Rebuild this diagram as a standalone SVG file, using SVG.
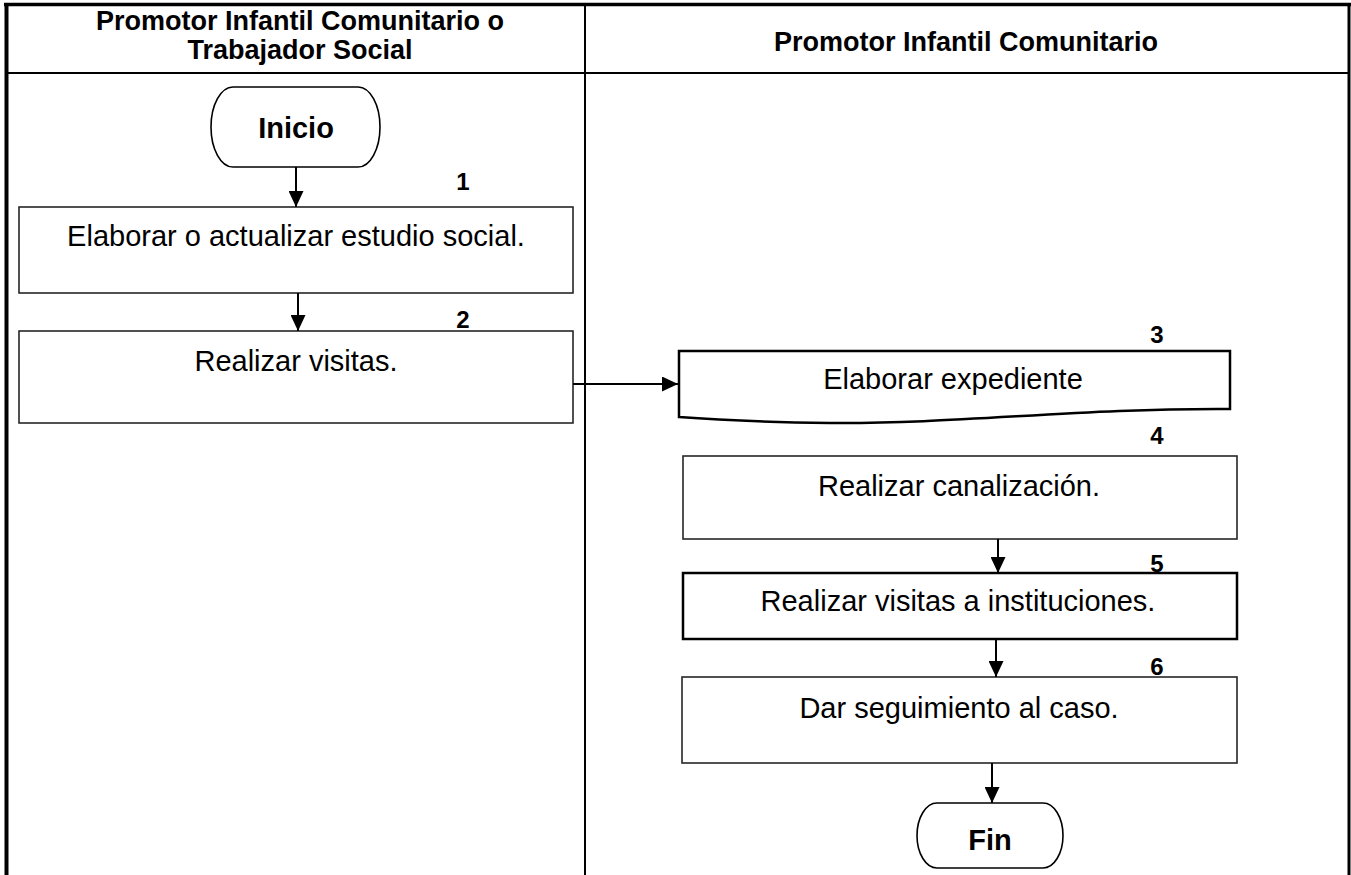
<svg xmlns="http://www.w3.org/2000/svg" width="1351" height="875" viewBox="0 0 1351 875">
<defs>
<style>
.frame{stroke:#000;fill:none}
.box{fill:#fff;stroke:#262626;stroke-width:1.6}
.boxb{fill:#fff;stroke:#000;stroke-width:2.5}
.term{fill:#fff;stroke:#000;stroke-width:1.6}
.hdr{font-family:"Liberation Sans",Arial,sans-serif;font-weight:bold;font-size:27px;fill:#000;text-anchor:middle}
.txt{font-family:"Liberation Sans",Arial,sans-serif;font-size:29px;fill:#000;text-anchor:middle}
.ttl{font-family:"Liberation Sans",Arial,sans-serif;font-weight:bold;font-size:29px;fill:#000;text-anchor:middle}
.num{font-family:"Liberation Sans",Arial,sans-serif;font-weight:bold;font-size:24px;fill:#000;text-anchor:middle}
.conn{stroke:#000;stroke-width:2;fill:none}
</style>
<marker id="arr" viewBox="0 0 16 15" refX="16" refY="7.5" markerWidth="16" markerHeight="15" markerUnits="userSpaceOnUse" orient="auto">
<path d="M0,0 L16,7.5 L0,15 Z" fill="#000"/>
</marker>
</defs>
<rect width="1351" height="875" fill="#fff"/>
<g id="frame">
<line class="frame" x1="4" y1="4.5" x2="1351" y2="4.5" stroke-width="3.5"/>
<line class="frame" x1="6.5" y1="3" x2="6.5" y2="875" stroke-width="4"/>
<line class="frame" x1="1349" y1="3" x2="1349" y2="875" stroke-width="3"/>
<line class="frame" x1="585" y1="4" x2="585" y2="875" stroke-width="2"/>
<line class="frame" x1="6" y1="73" x2="1349" y2="73" stroke-width="2"/>
</g>
<g id="headers">
<text class="hdr" x="300" y="30">Promotor Infantil Comunitario o</text>
<text class="hdr" x="300" y="59">Trabajador Social</text>
<text class="hdr" x="966" y="51" font-size="29">Promotor Infantil Comunitario</text>
</g>
<g id="inicio">
<path class="term" d="M233,87 H358 A22,40 0 0 1 358,167 H233 A22,40 0 0 1 233,87 Z"/>
<text class="ttl" x="296" y="138">Inicio</text>
</g>
<g id="step1">
<rect class="box" x="19" y="207" width="554" height="86"/>
<text class="txt" x="296" y="246">Elaborar o actualizar estudio social.</text>
<text class="num" x="463" y="190">1</text>
</g>
<g id="step2">
<rect class="box" x="19" y="331" width="554" height="92"/>
<text class="txt" x="296" y="371">Realizar visitas.</text>
<text class="num" x="463" y="328">2</text>
</g>
<g id="step3">
<path class="boxb" stroke-width="2" d="M679,351 H1230 V409 C1080,408 960,424 830,423 C760,422 705,419 679,417 Z"/>
<text class="txt" x="953" y="389">Elaborar expediente</text>
<text class="num" x="1157" y="343">3</text>
</g>
<g id="step4">
<rect class="box" x="683" y="456" width="554" height="83"/>
<text class="txt" x="959" y="496">Realizar canalización.</text>
<text class="num" x="1157" y="444">4</text>
</g>
<g id="step5">
<rect class="boxb" x="683" y="573" width="554" height="66"/>
<text class="txt" x="958" y="611">Realizar visitas a instituciones.</text>
<text class="num" x="1157" y="572">5</text>
</g>
<g id="step6">
<rect class="box" x="682" y="677" width="555" height="86"/>
<text class="txt" x="959" y="718">Dar seguimiento al caso.</text>
<text class="num" x="1157" y="675">6</text>
</g>
<g id="fin">
<path class="term" d="M937,803 H1043 A20,32.5 0 0 1 1043,868 H937 A20,32.5 0 0 1 937,803 Z"/>
<text class="ttl" x="990" y="850" font-size="28">Fin</text>
</g>
<g id="connectors">
<line class="conn" x1="296" y1="167" x2="296" y2="207" marker-end="url(#arr)"/>
<line class="conn" x1="298" y1="293" x2="298" y2="331" marker-end="url(#arr)"/>
<line class="conn" x1="573" y1="384" x2="678" y2="384" marker-end="url(#arr)"/>
<line class="conn" x1="998" y1="539" x2="998" y2="573" marker-end="url(#arr)"/>
<line class="conn" x1="996" y1="639" x2="996" y2="677" marker-end="url(#arr)"/>
<line class="conn" x1="992" y1="763" x2="992" y2="803" marker-end="url(#arr)"/>
</g>
</svg>
